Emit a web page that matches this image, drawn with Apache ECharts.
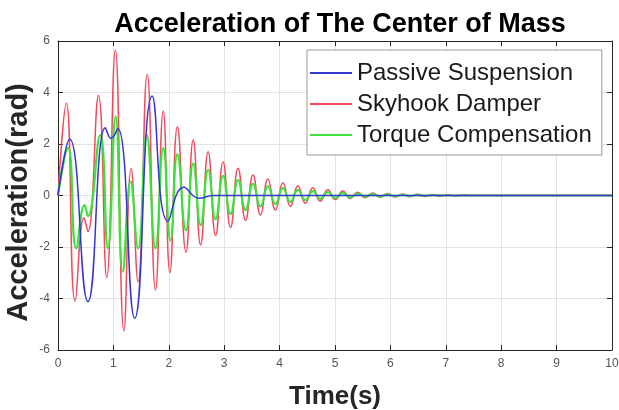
<!DOCTYPE html>
<html>
<head>
<meta charset="utf-8">
<script src="https://cdn.jsdelivr.net/npm/echarts@6/dist/echarts.min.js"></script>
<style>html,body{margin:0;padding:0;background:#fff}#c{width:619px;height:410px}</style>
</head>
<body>
<div id="c"></div>
<script>
// Passive Suspension (blue) – extrema
var passiveT = [0, 0.21, 0.54, 0.855, 0.96, 1.08, 1.385, 1.70, 1.985, 2.27, 2.55, 2.8, 10];
var passiveV = [0, 2.19, -4.12, 2.63, 2.22, 2.6, -4.77, 3.86, -1.0, 0.32, -0.11, 0.0, 0];

// Skyhook Damper (red)
var skyhookT = [0, 0.15, 0.31, 0.47, 0.54, 0.73, 0.88, 1.035, 1.19, 1.32, 1.445, 1.61, 1.76, 1.9, 2.02, 2.155, 2.31, 2.44, 2.575, 2.71, 2.845, 2.98, 3.115, 3.25, 3.385, 3.52, 3.655, 3.79, 3.925, 4.06, 4.195, 4.33, 4.465, 4.6, 4.735, 4.87, 5.005, 5.14, 5.275, 5.41, 5.545, 5.68, 5.815, 5.95, 6.085, 6.22, 6.355, 6.49, 6.625, 6.76, 6.895, 7.03, 7.165, 7.3, 7.5, 8, 10];
var skyhookV = [0, 3.58, -4.1, -0.86, -1.4, 3.88, -3.18, 5.65, -5.26, 1.05, -3.35, 4.7, -3.67, 3.28, -3.0, 2.67, -2.2, 2.16, -1.92, 1.7, -1.55, 1.3, -1.24, 1.06, -0.96, 0.8, -0.76, 0.64, -0.56, 0.5, -0.42, 0.38, -0.3, 0.3, -0.22, 0.22, -0.16, 0.17, -0.12, 0.13, -0.09, 0.1, -0.07, 0.08, -0.06, 0.06, -0.05, 0.05, -0.04, 0.04, -0.03, 0.03, -0.02, 0.02, 0, 0, 0];

// Torque Compensation (green)
var torqueT = [0, 0.18, 0.33, 0.48, 0.54, 0.76, 0.9, 1.04, 1.17, 1.31, 1.445, 1.6, 1.76, 1.9, 2.03, 2.155, 2.31, 2.44, 2.575, 2.71, 2.845, 2.98, 3.115, 3.25, 3.385, 3.52, 3.655, 3.79, 3.925, 4.06, 4.195, 4.33, 4.465, 4.6, 4.735, 4.87, 5.005, 5.14, 5.275, 5.41, 5.545, 5.68, 5.815, 5.95, 6.085, 6.22, 6.355, 6.49, 6.625, 6.76, 7.0, 8, 10];
var torqueV = [0, 1.85, -2.05, -0.37, -0.8, 2.35, -2.05, 3.06, -2.96, 0.54, -2.05, 2.35, -2.05, 1.84, -1.75, 1.6, -1.35, 1.25, -1.15, 1.0, -0.92, 0.76, -0.72, 0.6, -0.56, 0.45, -0.42, 0.36, -0.33, 0.29, -0.25, 0.22, -0.18, 0.17, -0.13, 0.13, -0.1, 0.1, -0.07, 0.07, -0.05, 0.05, -0.04, 0.04, -0.03, 0.03, -0.02, 0.02, -0.01, 0.01, 0, 0, 0];

var seriesNames = ['Passive Suspension', 'Skyhook Damper', 'Torque Compensation'];
var xTicks = {min: 0, max: 10, interval: 1};
var yTicks = {min: -6, max: 6, interval: 2};

function pairs(t, v) { return t.map(function (x, i) { return [x, v[i]]; }); }

var chart = echarts.init(document.getElementById('c'), null, {renderer: 'canvas'});
var axisCol = '#262626';
var font = 'Arial, "Liberation Sans", Helvetica, sans-serif';
chart.setOption({
  animation: false,
  backgroundColor: '#fff',
  title: {
    text: 'Acceleration of The Center of Mass',
    left: 335, textAlign: 'center', top: 6,
    textStyle: {fontFamily: font, fontSize: 27, fontWeight: 'bold', color: '#000'}
  },
  legend: {
    data: seriesNames,
    orient: 'vertical',
    left: 307, top: 50,
    padding: [11, 10, 8, 3],
    itemWidth: 42, itemHeight: 2, itemGap: 7,
    icon: 'rect',
    backgroundColor: '#fff',
    borderColor: '#999', borderWidth: 1, borderRadius: 0,
    textStyle: {fontFamily: font, fontSize: 24, color: '#1a1a1a', lineHeight: 21}
  },
  grid: {left: 58, top: 41, right: 7, bottom: 60, containLabel: false, outerBoundsMode: 'none'},
  xAxis: [{
    type: 'value', min: xTicks.min, max: xTicks.max, interval: xTicks.interval,
    name: 'Time(s)', nameLocation: 'middle', nameGap: 34, nameMoveOverlap: false,
    nameTextStyle: {fontFamily: font, fontSize: 26, fontWeight: 'bold', color: '#262626'},
    axisLine: {onZero: false, lineStyle: {color: axisCol, width: 1}},
    axisTick: {inside: true, length: 5, lineStyle: {color: axisCol}},
    axisLabel: {fontFamily: font, fontSize: 12, color: '#555', margin: 8},
    splitLine: {show: true, lineStyle: {color: '#e2e2e2', width: 1}}
  }, {
    type: 'value', position: 'top', min: xTicks.min, max: xTicks.max, interval: xTicks.interval,
    axisLine: {show: true, onZero: false, lineStyle: {color: axisCol, width: 1}},
    axisTick: {show: true, inside: true, length: 5, lineStyle: {color: axisCol}},
    axisLabel: {show: false}, splitLine: {show: false}
  }],
  yAxis: [{
    type: 'value', min: yTicks.min, max: yTicks.max, interval: yTicks.interval,
    name: 'Acceleration(rad)', nameLocation: 'middle', nameGap: 25, nameMoveOverlap: false,
    nameTextStyle: {fontFamily: font, fontSize: 29, fontWeight: 'bold', color: '#262626', padding: [0, 14, 0, 0]},
    axisLine: {show: true, onZero: false, lineStyle: {color: axisCol, width: 1}},
    axisTick: {show: true, inside: true, length: 5, lineStyle: {color: axisCol}},
    axisLabel: {fontFamily: font, fontSize: 12, color: '#555', margin: 8},
    splitLine: {show: true, lineStyle: {color: '#e2e2e2', width: 1}}
  }, {
    type: 'value', position: 'right', min: yTicks.min, max: yTicks.max, interval: yTicks.interval,
    axisLine: {show: true, onZero: false, lineStyle: {color: axisCol, width: 1}},
    axisTick: {show: true, inside: true, length: 5, lineStyle: {color: axisCol}},
    axisLabel: {show: false}, splitLine: {show: false}
  }],
  series: [{
    name: seriesNames[0], type: 'line', data: pairs(passiveT, passiveV),
    smooth: 0.5, showSymbol: false, z: 4,
    lineStyle: {color: '#3535d0', width: 1.5}, itemStyle: {color: '#3535d0'}
  }, {
    name: seriesNames[1], type: 'line', data: pairs(skyhookT, skyhookV),
    smooth: 0.5, showSymbol: false, z: 2,
    lineStyle: {color: '#f04a5c', width: 1.5}, itemStyle: {color: '#f04a5c'}
  }, {
    name: seriesNames[2], type: 'line', data: pairs(torqueT, torqueV),
    smooth: 0.5, showSymbol: false, z: 3,
    lineStyle: {color: '#3ee03e', width: 2.2}, itemStyle: {color: '#3ee03e'}
  }]
});
</script>
</body>
</html>
